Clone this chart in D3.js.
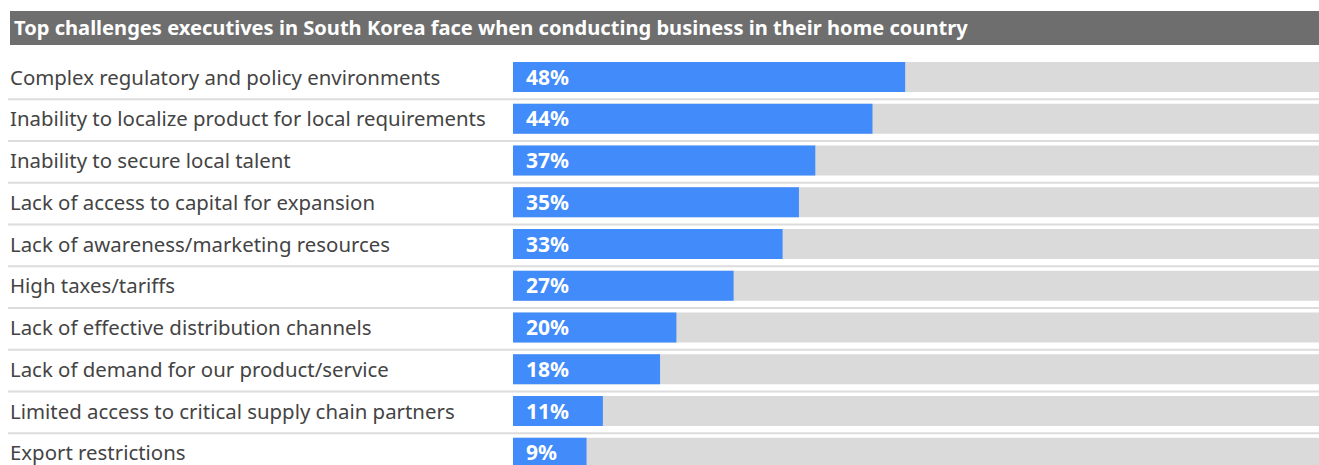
<!DOCTYPE html>
<html>
<head>
<meta charset="utf-8">
<script src="https://cdn.jsdelivr.net/npm/d3@7"></script>
<style>
  html, body { margin: 0; padding: 0; background: #fff; }
  svg { display: block; font-family: "Noto Sans", "Open Sans", sans-serif; }
</style>
</head>
<body>
<svg id="chart" width="1319" height="465"></svg>
<script>
const title = "Top challenges executives in South Korea face when conducting business in their home country";
const categories = [
  "Complex regulatory and policy environments",
  "Inability to localize product for local requirements",
  "Inability to secure local talent",
  "Lack of access to capital for expansion",
  "Lack of awareness/marketing resources",
  "High taxes/tariffs",
  "Lack of effective distribution channels",
  "Lack of demand for our product/service",
  "Limited access to critical supply chain partners",
  "Export restrictions"
];
const values = [48, 44, 37, 35, 33, 27, 20, 18, 11, 9];

const svg = d3.select("#chart");
const W = 1319;

// header band
svg.append("rect").attr("x", 10).attr("y", 11).attr("width", W - 10).attr("height", 34)
  .attr("fill", "#6e6e6e");
svg.append("text").attr("x", 14).attr("y", 35)
  .attr("fill", "#fff").attr("font-weight", 700).attr("font-size", 20.1)
  .text(title);

const rowStep = 41.75;
const y = d3.scaleBand().domain(categories)
  .range([58, 58 + rowStep * categories.length]).paddingInner(0).paddingOuter(0);
const x = d3.scaleLinear().domain([0, 100]).range([513, 1330]);

const rows = svg.append("g").selectAll("g").data(categories).join("g")
  .attr("transform", d => `translate(0,${y(d)})`);

// separators between rows
rows.filter((d, i) => i > 0).append("line")
  .attr("x1", 8).attr("x2", W).attr("y1", -0.5).attr("y2", -0.5)
  .attr("stroke", "#dcdcdc").attr("stroke-width", 2);

// background track
rows.append("rect").attr("x", x(0)).attr("y", 4)
  .attr("width", x(100) - x(0)).attr("height", 30).attr("fill", "#dadada");

// value bar
rows.append("rect").attr("x", x(0)).attr("y", 4)
  .attr("width", (d, i) => x(values[i]) - x(0)).attr("height", 30).attr("fill", "#418bfb");

// category label
rows.append("text").attr("x", 10).attr("y", 26.5)
  .attr("fill", "#444").attr("font-size", 20.4)
  .text(d => d);

// value label
rows.append("text").attr("x", x(0) + 13).attr("y", 26.5)
  .attr("fill", "#fff").attr("font-weight", 700).attr("font-size", 21)
  .text((d, i) => values[i] + "%");
</script>
</body>
</html>
